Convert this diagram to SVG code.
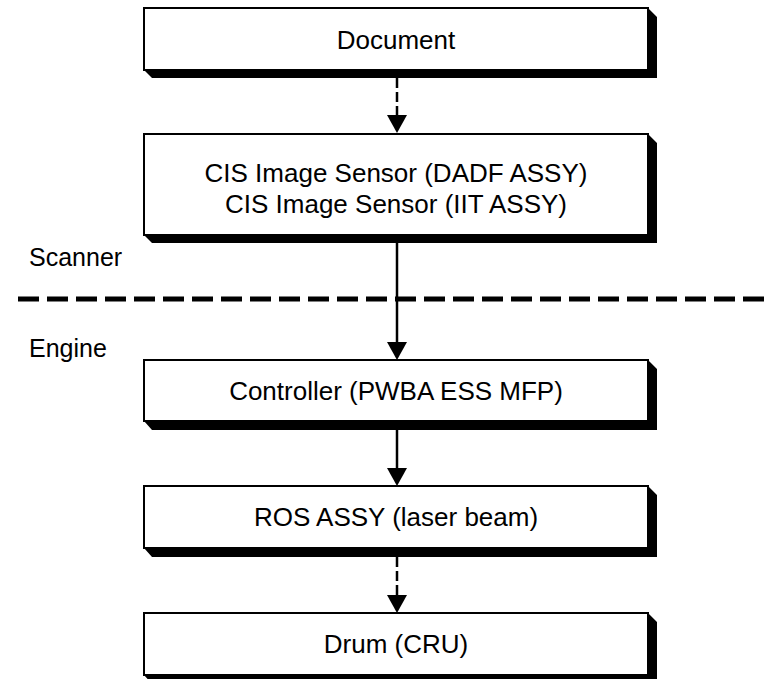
<svg xmlns="http://www.w3.org/2000/svg" width="771" height="679" viewBox="0 0 771 679">
<style>
.box{fill:#fff;stroke:#000;stroke-width:2}
.shadow{fill:#000}
.t{font-family:"Liberation Sans",Arial,sans-serif;font-size:26px;fill:#000;text-anchor:middle}
.lbl{font-family:"Liberation Sans",Arial,sans-serif;font-size:25px;fill:#000}
.conn{stroke:#000;stroke-width:2.5;fill:none}
.dash{stroke-dasharray:10 4}
</style>
<defs>
<marker id="ah" markerUnits="userSpaceOnUse" markerWidth="18" markerHeight="20" viewBox="0 0 18 20" refX="0" refY="10" orient="auto">
<path d="M0,0 L18,10 L0,20 z" fill="#000"/>
</marker>
</defs>
<rect width="771" height="679" fill="#fff"/>
<line x1="18" y1="299" x2="771" y2="299" stroke="#000" stroke-width="5" stroke-dasharray="21 8"/>
<text class="lbl" x="29" y="266">Scanner</text>
<text class="lbl" x="29" y="357">Engine</text>
<g id="connectors">
<line class="conn dash" x1="397" y1="78" x2="397" y2="115" marker-end="url(#ah)"/>
<line class="conn" x1="397" y1="243" x2="397" y2="342" marker-end="url(#ah)"/>
<line class="conn" x1="397" y1="430" x2="397" y2="468" marker-end="url(#ah)"/>
<line class="conn dash" x1="397" y1="557" x2="397" y2="595" marker-end="url(#ah)"/>
</g>
<g id="document">
<polygon class="shadow" points="648,8 657,17 657,78 152,78 144,70 648,70"/>
<rect class="box" x="144" y="8" width="504" height="62"/>
<text class="t" x="396" y="49">Document</text>
</g>
<g id="cis">
<polygon class="shadow" points="648,134 657,143 657,243 152,243 144,235 648,235"/>
<rect class="box" x="144" y="134" width="504" height="101"/>
<text class="t" x="396" y="182">CIS Image Sensor (DADF ASSY)</text>
<text class="t" x="396" y="213">CIS Image Sensor (IIT ASSY)</text>
</g>
<g id="controller">
<polygon class="shadow" points="648,360 657,369 657,430 152,430 144,421 648,421"/>
<rect class="box" x="144" y="360" width="504" height="61"/>
<text class="t" x="396" y="400">Controller (PWBA ESS MFP)</text>
</g>
<g id="ros">
<polygon class="shadow" points="648,486 657,495 657,557 152,557 144,548 648,548"/>
<rect class="box" x="144" y="486" width="504" height="62"/>
<text class="t" x="396" y="526">ROS ASSY (laser beam)</text>
</g>
<g id="drum">
<polygon class="shadow" points="648,613 657,622 657,684 152,684 144,675 648,675"/>
<rect class="box" x="144" y="613" width="504" height="62"/>
<text class="t" x="396" y="653">Drum (CRU)</text>
</g>
</svg>
